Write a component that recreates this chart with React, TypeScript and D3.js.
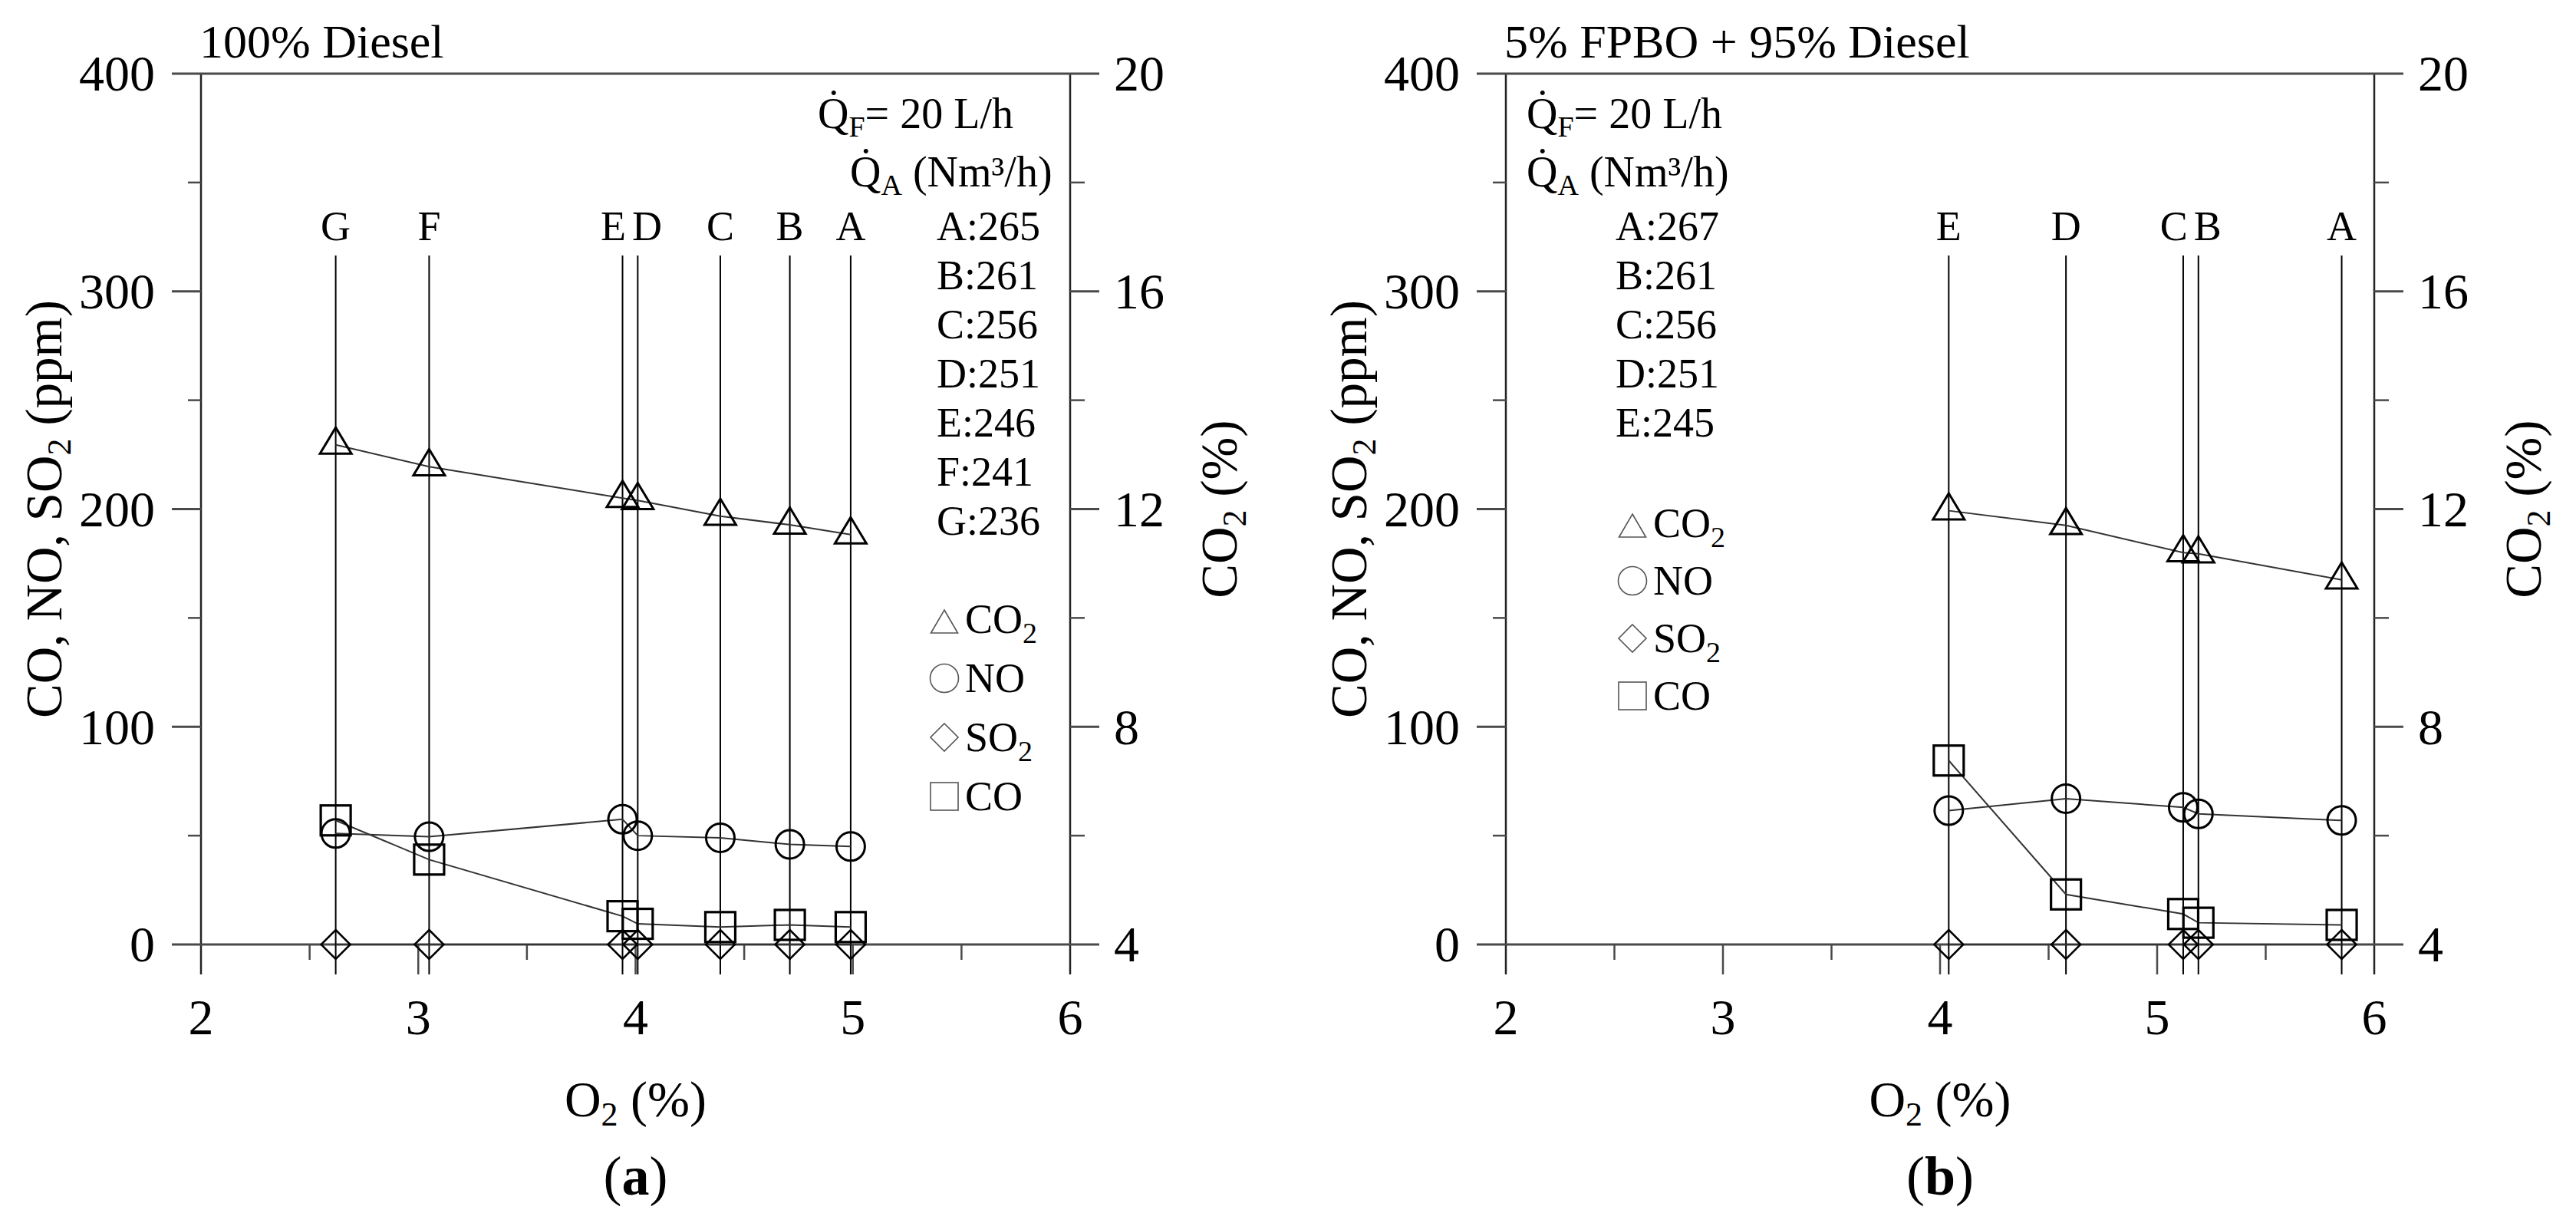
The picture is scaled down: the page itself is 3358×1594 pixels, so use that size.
import * as d3 from "d3";

// ---- data ----
// (a) 100% Diesel
const pointsA = ["G", "F", "E", "D", "C", "B", "A"];
const o2A = [2.62, 3.05, 3.94, 4.01, 4.39, 4.71, 4.99];
const co2A = [13.18, 12.78, 12.2, 12.16, 11.87, 11.71, 11.53];
const noA = [51, 49.5, 57.5, 50, 49, 46, 45];
const coA = [57, 39, 13, 9.5, 8, 9, 8];
const so2A = [0, 0, 0, 0, 0, 0, 0];
const airA = ["A:265", "B:261", "C:256", "D:251", "E:246", "F:241", "G:236"];

// (b) 5% FPBO + 95% Diesel
const pointsB = ["E", "D", "C", "B", "A"];
const o2B = [4.04, 4.58, 5.12, 5.19, 5.85];
const co2B = [11.97, 11.7, 11.2, 11.18, 10.7];
const noB = [61.5, 67, 63, 60, 57];
const coB = [84.5, 23, 14, 10, 9];
const so2B = [0, 0, 0, 0, 0];
const airB = ["A:267", "B:261", "C:256", "D:251", "E:245"];

const ppmTicks = [0, 100, 200, 300, 400];
const co2Ticks = [4, 8, 12, 16, 20];
const o2Ticks = [2, 3, 4, 5, 6];

const FONT = "'Liberation Serif', 'Times New Roman', serif";
const W = 3358;
const H = 1594;
const TOP = 96;
const BOTTOM = 1231;
const AXIS_END = 1270;

function spread(xs: number[], gap: number) {
  const out = xs.slice();
  for (let i = 1; i < out.length; i++) {
    if (out[i] - out[i - 1] < gap) {
      const mid = (out[i] + out[i - 1]) / 2;
      out[i - 1] = mid - gap / 2;
      out[i] = mid + gap / 2;
    }
  }
  return out;
}

const triPath = (w: number, h: number) =>
  `M0,${(-2 * h) / 3}L${w / 2},${h / 3}L${-w / 2},${h / 3}Z`;
const diaPath = (r: number) => `M0,${-r}L${r},0L0,${r}L${-r},0Z`;

function Panel({ x0, x1, title, points, o2, co2, no, co, so2, air, tag, note }) {
  const x = d3.scaleLinear().domain([2, 6]).range([x0, x1]);
  const y = d3.scaleLinear().domain([0, 400]).range([BOTTOM, TOP]);
  const y2 = d3.scaleLinear().domain([4, 20]).range([BOTTOM, TOP]);
  const line = d3.line<[number, number]>();
  const xs = o2.map((v) => x(v));
  const labelXs = spread(xs, 44);
  const cx = (x0 + x1) / 2;
  const cy = (TOP + BOTTOM) / 2;

  const minorY = d3.range(50, 400, 100);
  const minorY2 = d3.range(6, 20, 4);
  const minorX = d3.range(2.5, 6, 1);

  const co2Pts = o2.map((v, i) => [x(v), y2(co2[i])] as [number, number]);
  const noPts = o2.map((v, i) => [x(v), y(no[i])] as [number, number]);
  const coPts = o2.map((v, i) => [x(v), y(co[i])] as [number, number]);
  const so2Pts = o2.map((v, i) => [x(v), y(so2[i])] as [number, number]);

  const legendItems = [
    { kind: "tri", name: "CO", sub: "2" },
    { kind: "circ", name: "NO", sub: "" },
    { kind: "dia", name: "SO", sub: "2" },
    { kind: "sq", name: "CO", sub: "" },
  ];

  return (
    <g fontFamily={FONT} fill="#000">
      {/* title */}
      <text x={x0 - 2} y={75} fontSize={62}>{title}</text>

      {/* frame */}
      <line x1={x0} x2={x0} y1={TOP} y2={AXIS_END} stroke="#222" strokeWidth={2.5} />
      <line x1={x1} x2={x1} y1={TOP} y2={AXIS_END} stroke="#222" strokeWidth={2.5} />
      {ppmTicks.map((t) => (
        <line
          key={"yl" + t}
          x1={t === 0 || t === 400 ? x0 - 38 : x0 - 38}
          x2={t === 0 || t === 400 ? x1 + 38 : x0}
          y1={y(t)}
          y2={y(t)}
          stroke="#4a4a4a"
          strokeWidth={3}
        />
      ))}
      {co2Ticks.slice(1, -1).map((t) => (
        <line key={"yr" + t} x1={x1} x2={x1 + 38} y1={y2(t)} y2={y2(t)} stroke="#4a4a4a" strokeWidth={3} />
      ))}
      {minorY.map((t) => (
        <line key={"ml" + t} x1={x0 - 17} x2={x0} y1={y(t)} y2={y(t)} stroke="#4a4a4a" strokeWidth={2.5} />
      ))}
      {minorY2.map((t) => (
        <line key={"mr" + t} x1={x1} x2={x1 + 19} y1={y2(t)} y2={y2(t)} stroke="#4a4a4a" strokeWidth={2.5} />
      ))}
      {o2Ticks.slice(1, -1).map((t) => (
        <line key={"xt" + t} x1={x(t)} x2={x(t)} y1={BOTTOM} y2={AXIS_END} stroke="#4a4a4a" strokeWidth={2.5} />
      ))}
      {minorX.map((t) => (
        <line key={"xm" + t} x1={x(t)} x2={x(t)} y1={BOTTOM} y2={BOTTOM + 20} stroke="#4a4a4a" strokeWidth={2.5} />
      ))}

      {/* tick labels */}
      {ppmTicks.map((t) => (
        <text key={"lp" + t} x={x0 - 60} y={y(t)} dy="0.34em" fontSize={66} textAnchor="end">{t}</text>
      ))}
      {co2Ticks.map((t) => (
        <text key={"lc" + t} x={x1 + 57} y={y2(t)} dy="0.34em" fontSize={66}>{t}</text>
      ))}
      {o2Ticks.map((t) => (
        <text key={"lo" + t} x={x(t)} y={1348} fontSize={66} textAnchor="middle">{t}</text>
      ))}

      {/* axis titles */}
      <text transform={`translate(${x0 - 182},${cy}) rotate(-90)`} fontSize={67} textAnchor="middle">
        CO, NO, SO<tspan fontSize={44} dy={12}>2</tspan><tspan dy={-12}> (ppm)</tspan>
      </text>
      <text transform={`translate(${x1 + 217},${cy}) rotate(-90)`} fontSize={67} textAnchor="middle">
        CO<tspan fontSize={44} dy={12}>2</tspan><tspan dy={-12}> (%)</tspan>
      </text>
      <text x={cx} y={1455} fontSize={66} textAnchor="middle">
        O<tspan fontSize={44} dy={12}>2</tspan><tspan dy={-12}> (%)</tspan>
      </text>
      <text x={cx} y={1557} fontSize={72} textAnchor="middle">
        (<tspan fontWeight="bold">{tag}</tspan>)
      </text>

      {/* operating-point lines and letters */}
      {xs.map((v, i) => (
        <line key={"v" + i} x1={v} x2={v} y1={333} y2={AXIS_END} stroke="#000" strokeWidth={2} />
      ))}
      {points.map((p, i) => (
        <text key={"p" + i} x={labelXs[i]} y={313} fontSize={54} textAnchor="middle">{p}</text>
      ))}

      {/* series lines */}
      <path d={line(co2Pts)} fill="none" stroke="#333" strokeWidth={2} />
      <path d={line(noPts)} fill="none" stroke="#333" strokeWidth={2} />
      <path d={line(coPts)} fill="none" stroke="#333" strokeWidth={2} />
      <path d={line(so2Pts)} fill="none" stroke="#333" strokeWidth={2} />

      {/* markers */}
      {co2Pts.map(([px, py], i) => (
        <path key={"t" + i} transform={`translate(${px},${py})`} d={triPath(41, 34)} fill="none" stroke="#000" strokeWidth={3} />
      ))}
      {noPts.map(([px, py], i) => (
        <circle key={"c" + i} cx={px} cy={py} r={18.5} fill="none" stroke="#000" strokeWidth={3} />
      ))}
      {so2Pts.map(([px, py], i) => (
        <path key={"d" + i} transform={`translate(${px},${py})`} d={diaPath(19)} fill="none" stroke="#000" strokeWidth={2.5} />
      ))}
      {coPts.map(([px, py], i) => (
        <rect key={"s" + i} x={px - 19.5} y={py - 19.5} width={39} height={39} fill="none" stroke="#000" strokeWidth={3.2} />
      ))}

      {/* flow annotation */}
      <text x={note.qx} y={167} fontSize={56}>
        {"Q\u0307"}<tspan fontSize={38} dy={11}>F</tspan><tspan dy={-11}>= 20 L/h</tspan>
      </text>
      <text x={note.qax} y={243} fontSize={56}>
        {"Q\u0307"}<tspan fontSize={38} dy={11}>A</tspan><tspan dy={-11}> (Nm³/h)</tspan>
      </text>
      {air.map((a, i) => (
        <text key={"a" + i} x={note.ax} y={313 + i * 64} fontSize={54}>{a}</text>
      ))}

      {/* legend */}
      {legendItems.map((it, i) => {
        const by = note.ly + i * note.lstep;
        const sx = note.lx + 18;
        const sy = by - 18;
        let sym;
        if (it.kind === "tri") sym = <path transform={`translate(${sx},${by - 30 / 3})`} d={triPath(35, 30)} fill="none" stroke="#555" strokeWidth={1.6} />;
        else if (it.kind === "circ") sym = <circle cx={sx} cy={sy} r={18.5} fill="none" stroke="#555" strokeWidth={1.6} />;
        else if (it.kind === "dia") sym = <path transform={`translate(${sx},${sy})`} d={diaPath(18)} fill="none" stroke="#555" strokeWidth={1.6} />;
        else sym = <rect x={sx - 18} y={sy - 18} width={36} height={36} fill="none" stroke="#555" strokeWidth={1.6} />;
        return (
          <g key={"lg" + i}>
            {sym}
            <text x={note.lx + 45} y={by} fontSize={54}>
              {it.name}
              {it.sub && <tspan fontSize={38} dy={13}>{it.sub}</tspan>}
            </text>
          </g>
        );
      })}
    </g>
  );
}

export default function App() {
  return (
    <div style={{ position: "absolute", left: 0, top: 0, background: "#fff" }}>
      <svg width={W} height={H} viewBox={`0 0 ${W} ${H}`} style={{ display: "block" }}>
        <rect width={W} height={H} fill="#fff" />
        <Panel
          x0={262}
          x1={1395}
          title="100% Diesel"
          points={pointsA}
          o2={o2A}
          co2={co2A}
          no={noA}
          co={coA}
          so2={so2A}
          air={airA}
          tag="a"
          note={{ qx: 1066, qax: 1108, ax: 1221, lx: 1213, ly: 825, lstep: 77 }}
        />
        <Panel
          x0={1963}
          x1={3095}
          title="5% FPBO + 95% Diesel"
          points={pointsB}
          o2={o2B}
          co2={co2B}
          no={noB}
          co={coB}
          so2={so2B}
          air={airB}
          tag="b"
          note={{ qx: 1990, qax: 1990, ax: 2106, lx: 2110, ly: 700, lstep: 75 }}
        />
      </svg>
    </div>
  );
}
